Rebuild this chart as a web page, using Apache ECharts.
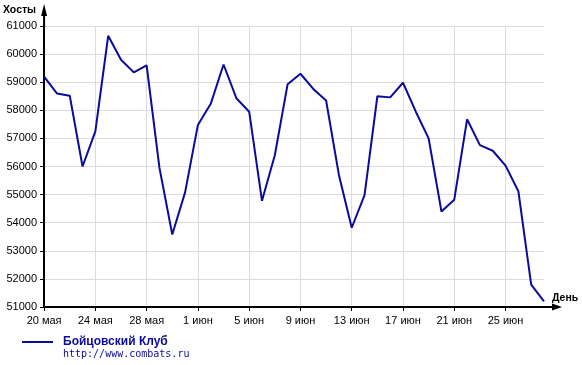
<!DOCTYPE html>
<html>
<head>
<meta charset="utf-8">
<script src="https://cdn.jsdelivr.net/npm/echarts@6/dist/echarts.min.js"></script>
<style>html,body{margin:0;padding:0;background:#fff;}#c{width:582px;height:365px;}</style>
</head>
<body>
<div id="c"></div>
<script>
var days = ['20 мая','21 мая','22 мая','23 мая','24 мая','25 мая','26 мая','27 мая','28 мая','29 мая','30 мая','31 мая',
  '1 июн','2 июн','3 июн','4 июн','5 июн','6 июн','7 июн','8 июн','9 июн','10 июн','11 июн','12 июн','13 июн','14 июн',
  '15 июн','16 июн','17 июн','18 июн','19 июн','20 июн','21 июн','22 июн','23 июн','24 июн','25 июн','26 июн','27 июн','28 июн'];
var hosts = [59200,58600,58520,56000,57250,60650,59800,59350,59600,55950,53580,55080,
  57480,58230,59630,58430,57950,54780,56400,58930,59300,58760,58350,55700,53820,54980,
  58500,58460,58980,57950,57000,54400,54820,57680,56760,56560,56030,55120,51800,51200];
var seriesName = 'Бойцовский Клуб';
var siteUrl = 'http://www.combats.ru';
var yMin = 51000, yMax = 61000, yStep = 1000;

var chart = echarts.init(document.getElementById('c'));
var blue = '#0b0b9b';
chart.setOption({
  animation: false,
  backgroundColor: '#fff',
  grid: {left: 43, right: 38, top: 26, bottom: 58, containLabel: false},
  legend: {
    left: 22, top: 336, icon: 'rect', itemWidth: 31, itemHeight: 2, padding: 0,
    data: [seriesName],
    textStyle: {color: blue, fontWeight: 'bold', fontSize: 12, fontFamily: 'Liberation Sans, Arial, sans-serif', padding: [0,0,0,5]}
  },
  graphic: [{
    type: 'text', left: 63, top: 349,
    style: {text: siteUrl, fill: blue, font: '10px "DejaVu Sans Mono", monospace'}
  }],
  xAxis: {
    type: 'category', data: days, boundaryGap: false,
    name: 'День', nameLocation: 'end', nameGap: 8,
    nameTextStyle: {color: '#000', fontWeight: 'bold', fontSize: 10.5, fontFamily: 'Liberation Sans, Arial, sans-serif', verticalAlign: 'bottom', padding: [0,0,3,0]},
    axisLine: {lineStyle: {color: '#000', width: 2},
      symbol: ['none', 'path://M3.5,0 L7,10 L4.5,10 L4.5,18 L2.5,18 L2.5,10 L0,10 Z'],
      symbolSize: [7, 18], symbolOffset: [0, 9]},
    axisTick: {interval: 3, length: 4, lineStyle: {color: '#000', width: 1}},
    axisLabel: {interval: 3, color: '#000', fontSize: 11, fontFamily: 'Liberation Sans, Arial, sans-serif', margin: 8},
    splitLine: {show: true, interval: 3, lineStyle: {color: '#dcdcdc', width: 1}}
  },
  yAxis: {
    type: 'value', min: yMin, max: yMax, interval: yStep,
    name: 'Хосты', nameLocation: 'end', nameGap: 16,
    nameTextStyle: {color: '#000', fontWeight: 'bold', fontSize: 10.5, fontFamily: 'Liberation Sans, Arial, sans-serif', align: 'right', verticalAlign: 'middle', padding: [0,8,0,0]},
    axisLine: {show: true, lineStyle: {color: '#000', width: 2},
      symbol: ['none', 'path://M3,0 L6,12 L4,12 L4,22 L2,22 L2,12 L0,12 Z'],
      symbolSize: [6, 22], symbolOffset: [0, 11]},
    axisTick: {show: true, length: 4, lineStyle: {color: '#000', width: 1}},
    axisLabel: {color: '#000', fontSize: 11, fontFamily: 'Liberation Sans, Arial, sans-serif', margin: 7,
      formatter: function (v) { return String(v); }},
    splitLine: {show: true, lineStyle: {color: '#dcdcdc', width: 1}}
  },
  series: [{
    name: seriesName, type: 'line', data: hosts, showSymbol: false, symbol: 'none',
    lineStyle: {color: blue, width: 2}, itemStyle: {color: blue}
  }]
});
</script>
</body>
</html>
